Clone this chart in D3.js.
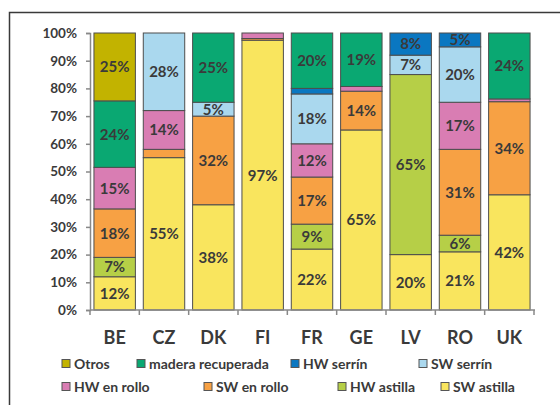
<!DOCTYPE html>
<html>
<head>
<meta http-equiv="Content-type" content="text/html; charset=utf-8">
<title>Biomasa por pais</title>
<script src="https://cdn.jsdelivr.net/npm/d3@7"></script>
<style>
  body { margin: 0; background: #fff; }
  text { font-family: "Lato", "DejaVu Sans", sans-serif; font-weight: bold; fill: #3a3a3a; }
</style>
</head>
<body>
<script type="text/javascript">

// categories (countries) and series, bottom of the stack first
var countries = ["BE", "CZ", "DK", "FI", "FR", "GE", "LV", "RO", "UK"];
var seriesNames = ["SW astilla", "HW astilla", "SW en rollo", "HW en rollo", "SW serrín", "HW serrín", "madera recuperada", "Otros"];

var swAstilla   = [12,   55, 38, 97.4, 22, 65,  20, 21, 41.6];
var hwAstilla   = [7,    0,  0,  0,    9,  0,   65, 6,  0];
var swRollo     = [17.5, 3,  32, 0.6,  17, 14,  0,  31, 33.6];
var hwRollo     = [15,   14, 0,  2,    12, 1.7, 0,  17, 1];
var swSerrin    = [0,    28, 5,  0,    18, 0,   7,  20, 0];
var hwSerrin    = [0,    0,  0,  0,    2,  0,   8,  5,  0];
var maderaRec   = [24,   0,  25, 0,    20, 19.3, 0, 0,  23.8];
var otros       = [24.5, 0,  0,  0,    0,  0,   0,  0,  0];

var yTicks = [0, 10, 20, 30, 40, 50, 60, 70, 80, 90, 100];

var colors = ["#f9e55e", "#b6cf47", "#f7a144", "#d97db3", "#aad8ee", "#0a77c1", "#0aa872", "#c2b300"];

// legend order as in the picture
var legendOrder = [7, 6, 5, 4, 3, 2, 1, 0];
var legendX = [62, 137, 291, 419, 62, 204, 338, 441];

var W = 560, H = 405;

var svg = d3.select("body").append("svg")
    .attr("width", W)
    .attr("height", H);

// outer frame
svg.append("rect")
    .attr("x", 9.5).attr("y", 12.5)
    .attr("width", 600).attr("height", 500)
    .attr("fill", "none")
    .attr("stroke", "#3a3a3a")
    .attr("stroke-width", 1.5);

var x = d3.scaleBand()
    .domain(countries)
    .range([90, 534])
    .paddingInner(0.16)
    .paddingOuter(0.08);

var y = d3.scaleLinear()
    .domain([0, 100])
    .range([310, 33]);

// build table for the stack
var allSeries = [swAstilla, hwAstilla, swRollo, hwRollo, swSerrin, hwSerrin, maderaRec, otros];
var table = countries.map(function(c, i) {
  var row = { country: c };
  seriesNames.forEach(function(s, k) { row[s] = allSeries[k][i]; });
  return row;
});

var stacked = d3.stack().keys(seriesNames)(table);

var layers = svg.selectAll("g.layer")
    .data(stacked)
    .enter().append("g")
    .attr("class", "layer")
    .attr("fill", function(d, i) { return colors[i]; });

layers.selectAll("rect")
    .data(function(d) { return d.filter(function(p) { return p[1] - p[0] > 0; }); })
    .enter().append("rect")
    .attr("x", function(d) { return x(d.data.country); })
    .attr("y", function(d) { return y(d[1]); })
    .attr("width", x.bandwidth())
    .attr("height", function(d) { return y(d[0]) - y(d[1]); })
    .attr("stroke", "#4d4d4d")
    .attr("stroke-width", 1);

// value labels
layers.selectAll("text")
    .data(function(d) { return d.filter(function(p) { return p[1] - p[0] >= 4.5; }); })
    .enter().append("text")
    .attr("x", function(d) { return x(d.data.country) + x.bandwidth() / 2; })
    .attr("y", function(d) { return (y(d[0]) + y(d[1])) / 2; })
    .attr("dy", "0.36em")
    .attr("text-anchor", "middle")
    .style("font-size", "15px")
    .text(function(d) { return Math.round(d[1] - d[0]) + "%"; });

// y axis
var yAxis = d3.axisLeft(y)
    .tickValues(yTicks)
    .tickSize(4)
    .tickFormat(function(d) { return d + "%"; });

var gy = svg.append("g")
    .attr("transform", "translate(90,0)")
    .call(yAxis);
gy.select(".domain").attr("stroke", "#888").attr("stroke-width", 1.5);
gy.selectAll(".tick line").attr("stroke", "#888").attr("stroke-width", 1.5);
gy.selectAll(".tick text")
    .attr("x", -13)
    .style("font-size", "13.5px")
    .style("font-family", "Lato, sans-serif")
    .attr("fill", "#333");

// x axis: ticks on the category boundaries
var gx = svg.append("g");
gx.append("line")
    .attr("x1", 90).attr("x2", 535)
    .attr("y1", 310).attr("y2", 310)
    .attr("stroke", "#888").attr("stroke-width", 1.5);
gx.selectAll("line.bt")
    .data(countries.concat(["end"]))
    .enter().append("line")
    .attr("class", "bt")
    .attr("x1", function(d, i) { return 90 + i * x.step(); })
    .attr("x2", function(d, i) { return 90 + i * x.step(); })
    .attr("y1", 310).attr("y2", 315)
    .attr("stroke", "#888").attr("stroke-width", 1.5);
gx.selectAll("text")
    .data(countries)
    .enter().append("text")
    .attr("x", function(d) { return x(d) + x.bandwidth() / 2; })
    .attr("y", 338)
    .attr("dy", "0.36em")
    .attr("text-anchor", "middle")
    .style("font-size", "18px")
    .attr("fill", "#222")
    .text(function(d) { return d; });

// legend, two rows of four
var legend = svg.selectAll("g.leg")
    .data(legendOrder)
    .enter().append("g")
    .attr("class", "leg")
    .attr("transform", function(d, i) {
      return "translate(" + legendX[i] + "," + (i < 4 ? 364 : 387) + ")";
    });

legend.append("rect")
    .attr("x", 0).attr("y", -4.5)
    .attr("width", 8).attr("height", 8)
    .attr("fill", function(d) { return colors[d]; })
    .attr("stroke", "#555")
    .attr("stroke-width", 1);

legend.append("text")
    .attr("x", 12)
    .attr("dy", "0.36em")
    .style("font-size", "14px")
    .attr("fill", "#333")
    .text(function(d) { return seriesNames[d]; });

</script>
</body>
</html>
